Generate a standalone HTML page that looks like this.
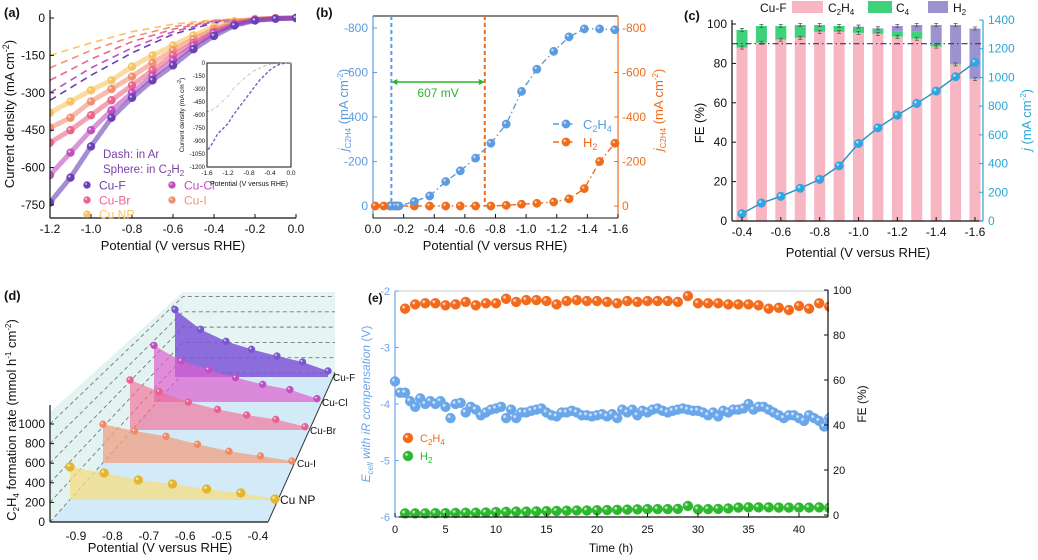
<!DOCTYPE html>
<html><head><meta charset="utf-8"><style>
html,body{margin:0;padding:0;background:#fff;}
svg{display:block;font-family:"Liberation Sans",sans-serif;}
</style></head><body>
<svg id="fig" width="1038" height="560" viewBox="0 0 1038 560" xmlns="http://www.w3.org/2000/svg">
<defs id="defs"></defs>
<g id="pa"></g>
<g id="pb"></g>
<g id="pc"></g>
<g id="pd"></g>
<g id="pe"></g>
</svg>
<script>
// ---------- data ----------
// panel a
const aPot = [-1.2,-1.1,-1.0,-0.9,-0.8,-0.7,-0.6,-0.5,-0.4,-0.3,-0.2,-0.1,0];
const aCuF  = [-740,-640,-515,-400,-320,-250,-190,-125,-72,-30,-10,-3,0];
const aCuCl = [-630,-540,-450,-370,-300,-232,-170,-110,-60,-25,-8,-2,0];
const aCuBr = [-500,-450,-390,-330,-270,-210,-150,-100,-55,-22,-7,-2,0];
const aCuI  = [-440,-400,-335,-285,-235,-180,-130,-85,-45,-18,-5,-1,0];
const aCuNP = [-380,-335,-290,-250,-195,-150,-110,-70,-35,-13,-4,-1,0];
const aDashPot = [-1.2,-1.0,-0.8,-0.6,-0.4,-0.2,0];
const aDashF  = [-330,-230,-140,-65,-20,-3,0];
const aDashCl = [-300,-200,-120,-55,-15,-2,0];
const aDashBr = [-250,-165,-95,-45,-12,-2,0];
const aDashI  = [-200,-130,-75,-35,-10,-1,0];
const aDashNP = [-150,-100,-55,-25,-7,-1,0];
const aTicksY = [0,-150,-300,-450,-600,-750];
const aTicksX = [-1.2,-1.0,-0.8,-0.6,-0.4,-0.2,0.0];
const insetPot = [-1.58,-1.5,-1.4,-1.3,-1.2,-1.1,-1.0,-0.9,-0.8,-0.7,-0.6,-0.5,-0.4,-0.3,-0.2,-0.1,0];
const insetC2H2 = [-1000,-930,-820,-760,-700,-600,-520,-440,-360,-280,-200,-140,-80,-40,-10,-2,0];
const insetAr = [-560,-540,-500,-440,-380,-300,-240,-180,-130,-90,-60,-35,-18,-8,-3,-1,0];
// panel b
const bPotC = [-0.12,-0.15,-0.17,-0.27,-0.37,-0.475,-0.57,-0.67,-0.77,-0.87,-0.97,-1.07,-1.18,-1.28,-1.38,-1.48,-1.58];
const bC2H4 = [0,0,0,-20,-45,-110,-158,-215,-282,-368,-515,-615,-695,-760,-796,-796,-792];
const bPotH = [-0.015,-0.07,-0.11,-0.14,-0.16,-0.27,-0.37,-0.475,-0.57,-0.67,-0.77,-0.87,-0.97,-1.07,-1.18,-1.28,-1.38,-1.48,-1.58];
const bH2 = [0,0,0,0,0,0,0,0,0,0,0,-3,-8,-12,-18,-32,-78,-200,-282];
const bOnsetC = -0.12, bOnsetH = -0.73;
const bTicksY = [-800,-600,-400,-200,0];
const bTicksX = [0.0,-0.2,-0.4,-0.6,-0.8,-1.0,-1.2,-1.4,-1.6];
// panel c
const cPot = [-0.4,-0.5,-0.6,-0.7,-0.8,-0.9,-1.0,-1.1,-1.2,-1.3,-1.4,-1.5,-1.6];
const cFEC2H4 = [88,90.5,92,93,96,96,95.5,95,93.5,92.5,88.5,79.5,72];
const cFEC4 = [9,8.5,7,6.5,3.5,3,3,2.3,2.5,3.5,1.5,0.2,0.2];
const cFEH2 = [0,0,0,0,0,0,0.2,0.5,3,3.5,9.5,19.8,25.5];
const cJ = [51,125,172,228,290,384,540,649,737,819,905,1005,1105];
const cTicksL = [0,20,40,60,80,100];
const cTicksR = [0,200,400,600,800,1000,1200,1400];
const cTicksX = [-0.4,-0.6,-0.8,-1.0,-1.2,-1.4,-1.6];
// panel d
const dNP = [340,277,205,164,113,72,10];
const dI  = [397,328,274,192,120,72,20];
const dBr = [513,393,287,212,154,109,34];
const dCl = [581,421,332,250,181,127,34];
const dF  = [691,489,366,284,215,154,62];
const dTicksY = [0,200,400,600,800,1000];
const dTicksX = [-0.9,-0.8,-0.7,-0.6,-0.5,-0.4];
// panel e
const eTimeFE = [1,2,3,4,5,6,7,8,9,10,11,12,13,14,15,16,17,18,19,20,21,22,23,24,25,26,27,28,29,30,31,32,33,34,35,36,37,38,39,40,41,42,43];
const eFEC2H4 = [91.7,93.6,94.1,94.1,93.2,93.6,94.7,93.2,94.1,94.1,96.1,94.7,95.5,95.5,95.1,93.6,95.1,95.5,95.1,95.1,94.7,94.1,95.1,94.7,95.1,95.1,95.1,94.7,97.3,94.1,94.1,94.1,93.6,93.6,93.6,93.2,91.7,92.1,91.1,92.9,91.7,94.1,92.6];
const eFEH2 = [0.7,0.7,0.7,0.8,0.8,0.9,1,1,1.1,1.3,1.4,1.5,1.5,1.6,1.7,1.8,1.9,2,2,2.1,2.2,2.3,2.4,2.5,2.6,2.6,2.6,2.7,4,2.5,2.6,2.7,2.9,3.3,3.4,3.4,3.4,3.3,3.3,3.3,3.3,3.4,3.2];
const eTimeV = [0,0.5,1,1.5,2,2.5,3,3.5,4,4.5,5,5.5,6,6.5,7,7.5,8,8.5,9,9.5,10,10.5,11,11.5,12,12.5,13,13.5,14,14.5,15,15.5,16,16.5,17,17.5,18,18.5,19,19.5,20,20.5,21,21.5,22,22.5,23,23.5,24,24.5,25,25.5,26,26.5,27,27.5,28,28.5,29,29.5,30,30.5,31,31.5,32,32.5,33,33.5,34,34.5,35,35.5,36,36.5,37,37.5,38,38.5,39,39.5,40,40.5,41,41.5,42,42.5,43];
const eEcell = [-3.6,-3.8,-3.8,-3.95,-4.05,-3.9,-4.0,-3.95,-4.0,-3.95,-4.05,-4.25,-4.0,-3.98,-4.15,-4.05,-4.1,-4.2,-4.15,-4.1,-4.08,-4.05,-4.25,-4.1,-4.25,-4.15,-4.15,-4.12,-4.1,-4.08,-4.15,-4.2,-4.22,-4.15,-4.15,-4.12,-4.15,-4.2,-4.2,-4.22,-4.2,-4.18,-4.22,-4.18,-4.25,-4.1,-4.15,-4.1,-4.2,-4.12,-4.15,-4.1,-4.08,-4.12,-4.15,-4.12,-4.1,-4.08,-4.1,-4.12,-4.12,-4.15,-4.2,-4.15,-4.22,-4.12,-4.15,-4.1,-4.1,-4.08,-4.0,-4.1,-4.05,-4.05,-4.1,-4.15,-4.2,-4.25,-4.2,-4.2,-4.25,-4.3,-4.2,-4.25,-4.3,-4.4,-4.25];
const eTicksL = [-2,-3,-4,-5,-6];
const eTicksR = [0,20,40,60,80,100];
const eTicksX = [0,5,10,15,20,25,30,35,40];

// ---------- helpers ----------
const NS = "http://www.w3.org/2000/svg";
function mk(tag, attrs, parent){const e=document.createElementNS(NS,tag);for(const k in attrs)e.setAttribute(k,attrs[k]);parent.appendChild(e);return e;}
function txt(parent,x,y,s,size,anchor,fill,extra){const t=mk('text',Object.assign({x:x,y:y,'font-size':size,'text-anchor':anchor||'start',fill:fill||'#111'},extra||{}),parent);t.innerHTML=s;return t;}
const defs=document.getElementById('defs');
const gradCache={};
function grad(color){
  if(gradCache[color])return gradCache[color];
  const id='g'+Object.keys(gradCache).length;
  const g=mk('radialGradient',{id:id,cx:'0.35',cy:'0.35',r:'0.7'},defs);
  mk('stop',{offset:'0',  'stop-color':'#ffffff'},g);
  mk('stop',{offset:'0.3','stop-color':color},g);
  mk('stop',{offset:'1',  'stop-color':color,'stop-opacity':'1'},g);
  gradCache[color]='url(#'+id+')';return gradCache[color];
}
function sphere(parent,x,y,r,color,name){
  const c=mk('circle',{cx:x,cy:y,r:r,fill:grad(color),stroke:color,'stroke-width':0.4},parent);
  
  
  return c;
}
function lin(d0,d1,p0,p1){return v=>p0+(v-d0)*(p1-p0)/(d1-d0);}

// ---------- panel a ----------
(function(){
const g=document.getElementById('pa');
const X=lin(-1.2,0,50,296), Y=lin(0,-750,18,205);
const cols=['#6b3fb5','#c04fbf','#ea6589','#f29074','#f6c465'];
const sph=[aCuF,aCuCl,aCuBr,aCuI,aCuNP];
const dsh=[aDashF,aDashCl,aDashBr,aDashI,aDashNP];
const clip=mk('clipPath',{id:'clipA'},defs);mk('rect',{x:50,y:10,width:246,height:208},clip);
const pg=mk('g',{'clip-path':'url(#clipA)'},g);
for(let s=4;s>=0;s--){
  const d=dsh[s].map((v,i)=>(i?'L':'M')+X(aDashPot[i])+','+Y(v)).join(' ');
  const p=mk('path',{d:d,fill:'none',stroke:cols[s],'stroke-width':1.6,'stroke-dasharray':'7,5'},pg);
  
  
}
for(let s=4;s>=0;s--){
  const d=sph[s].map((v,i)=>(i?'L':'M')+X(aPot[i])+','+Y(v)).join(' ');
  const p=mk('path',{d:d,fill:'none',stroke:cols[s],'stroke-width':5,'stroke-linecap':'round','stroke-opacity':0.6,'stroke-dasharray':'5,2'},pg);
  
  
  sph[s].forEach((v,i)=>sphere(pg,X(aPot[i]),Y(v),4,cols[s],'sphere-point'));
}
mk('line',{x1:50,y1:10,x2:50,y2:218,stroke:'#111','stroke-width':1.2},g);
mk('line',{x1:50,y1:218,x2:296,y2:218,stroke:'#111','stroke-width':1.2},g);
aTicksY.forEach(v=>{mk('line',{x1:50,x2:54,y1:Y(v),y2:Y(v),stroke:'#111'},g);txt(g,45,Y(v)+4,String(v),12,'end');});
aTicksX.forEach(v=>{mk('line',{x1:X(v),x2:X(v),y1:218,y2:214,stroke:'#111'},g);txt(g,X(v),233,v.toFixed(1),12,'middle');});
txt(g,173,250,'Potential (V versus RHE)',13,'middle');
txt(g,0,0,'Current density (mA cm<tspan dy="-5" font-size="9">-2</tspan><tspan dy="5">)</tspan>',13,'middle','#111',{transform:'translate(14,114) rotate(-90)'});
txt(g,4,17,'(a)',13,'start','#111',{'font-weight':'bold'});
// legend
txt(g,103,158,'Dash: in Ar',11.5,'start','#7b3fa8');
txt(g,103,173,'Sphere: in C<tspan dy="3" font-size="8">2</tspan><tspan dy="-3">H</tspan><tspan dy="3" font-size="8">2</tspan>',11.5,'start','#7b3fa8');
const leg=[['Cu-F',87,185],['Cu-Cl',172,185],['Cu-Br',87,200],['Cu-I',172,200],['Cu NP',87,214]];
leg.forEach((l,i)=>{sphere(g,l[1],l[2],3.5,cols[i],'legend-marker');const t=txt(g,l[1]+12,l[2]+4.5,l[0],12,'start',cols[i]);});
// inset
const ig=mk('g',{},g);
mk('rect',{x:207,y:63,width:84,height:104,fill:'#fff',stroke:'#111','stroke-width':1},ig);
const IX=lin(-1.6,0,207,291), IY=lin(0,-1200,63,167);
insetAr.forEach((v,i)=>mk('circle',{cx:IX(insetPot[i]),cy:IY(v),r:0.6,fill:'#999'},ig));
mk('path',{d:insetAr.map((v,i)=>(i?'L':'M')+IX(insetPot[i])+','+IY(v)).join(' '),fill:'none',stroke:'#aaa','stroke-width':0.6,'stroke-dasharray':'1,2'},ig);
mk('path',{d:insetC2H2.map((v,i)=>(i?'L':'M')+IX(insetPot[i])+','+IY(v)).join(' '),fill:'none',stroke:'#7a5cc0','stroke-width':1.4,'stroke-dasharray':'3,2'},ig);
[0,-150,-300,-450,-600,-750,-900,-1050,-1200].forEach(v=>txt(ig,205,IY(v)+2,String(v),6,'end'));
[-1.6,-1.2,-0.8,-0.4,0.0].forEach(v=>txt(ig,IX(v),175,v.toFixed(1),6.5,'middle'));
txt(ig,249,186,'Potential (V versus RHE)',7,'middle');
txt(ig,0,0,'Current density (mA cm<tspan dy="-3" font-size="5">-2</tspan><tspan dy="3">)</tspan>',6.5,'middle','#111',{transform:'translate(184,115) rotate(-90)'});
})();

// ---------- panel b ----------
(function(){
const g=document.getElementById('pb');
const X=lin(0,-1.6,373,618), Y=lin(0,-800,206,28);
const blue='#5b9bdf', org='#ef6c1a';
mk('line',{x1:373,y1:16,x2:618,y2:16,stroke:'#111'},g);
mk('line',{x1:373,y1:218,x2:618,y2:218,stroke:'#111'},g);
mk('line',{x1:373,y1:16,x2:373,y2:218,stroke:blue,'stroke-width':1.2},g);
mk('line',{x1:618,y1:16,x2:618,y2:218,stroke:org,'stroke-width':1.2},g);
bTicksY.forEach(v=>{mk('line',{x1:373,x2:377,y1:Y(v),y2:Y(v),stroke:blue},g);txt(g,368,Y(v)+4,String(v),12,'end',blue);
  mk('line',{x1:614,x2:618,y1:Y(v),y2:Y(v),stroke:org},g);txt(g,622,Y(v)+4,String(v),12,'start',org);});
bTicksX.forEach(v=>{mk('line',{x1:X(v),x2:X(v),y1:218,y2:214,stroke:'#111'},g);txt(g,X(v),233,v.toFixed(1),12,'middle');});
txt(g,495,250,'Potential (V versus RHE)',13,'middle');
txt(g,316,17,'(b)',13,'start','#111',{'font-weight':'bold'});
mk('line',{x1:X(bOnsetC),x2:X(bOnsetC),y1:16,y2:206,stroke:blue,'stroke-width':2,'stroke-dasharray':'4,3'},g);
mk('line',{x1:X(bOnsetH),x2:X(bOnsetH),y1:16,y2:206,stroke:org,'stroke-width':2,'stroke-dasharray':'4,3'},g);
mk('line',{x1:X(bOnsetC)+4,x2:X(bOnsetH)-4,y1:82,y2:82,stroke:'#2bb32b','stroke-width':1.5},g);
mk('path',{d:`M${X(bOnsetC)},82 l6,-3 v6 z M${X(bOnsetH)},82 l-6,-3 v6 z`,fill:'#2bb32b'},g);
txt(g,(X(bOnsetC)+X(bOnsetH))/2,97,'607 mV',12,'middle','#2bb32b');
mk('path',{d:bH2.map((v,i)=>(i?'L':'M')+X(bPotH[i])+','+Y(v)).join(' '),fill:'none',stroke:org,'stroke-width':1.4,'stroke-dasharray':'6,3,1.5,3'},g);
mk('path',{d:bC2H4.map((v,i)=>(i?'L':'M')+X(bPotC[i])+','+Y(v)).join(' '),fill:'none',stroke:blue,'stroke-width':1.4,'stroke-dasharray':'6,3,1.5,3'},g);
bH2.forEach((v,i)=>sphere(g,X(bPotH[i]),Y(v),4.2,org,'h2-point'));
bC2H4.forEach((v,i)=>sphere(g,X(bPotC[i]),Y(v),4.2,blue,'c2h4-point'));
// legend
mk('line',{x1:553,x2:575,y1:124,y2:124,stroke:blue,'stroke-width':1.4,'stroke-dasharray':'6,3,1.5,3'},g);sphere(g,566,124,4.2,blue,'legend-marker');
txt(g,583,129,'C<tspan dy="3" font-size="9">2</tspan><tspan dy="-3">H</tspan><tspan dy="3" font-size="9">4</tspan>',13,'start',blue);
mk('line',{x1:553,x2:575,y1:142,y2:142,stroke:org,'stroke-width':1.4,'stroke-dasharray':'6,3,1.5,3'},g);sphere(g,566,142,4.2,org,'legend-marker');
txt(g,583,147,'H<tspan dy="3" font-size="9">2</tspan>',13,'start',org);
txt(g,0,0,'<tspan font-style="italic">j</tspan><tspan dy="3" font-size="8">C2H4</tspan><tspan dy="-3"> (mA cm</tspan><tspan dy="-5" font-size="8">-2</tspan><tspan dy="5">)</tspan>',13,'middle',blue,{transform:'translate(348,110) rotate(-90)'});
txt(g,0,0,'<tspan font-style="italic">j</tspan><tspan dy="3" font-size="8">C2H4</tspan><tspan dy="-3"> (mA cm</tspan><tspan dy="-5" font-size="8">-2</tspan><tspan dy="5">)</tspan>',13,'middle',org,{transform:'translate(663,110) rotate(-90)'});
})();

// ---------- panel c ----------
(function(){
const g=document.getElementById('pc');
const X=lin(-0.4,-1.6,742,975), Y=lin(0,100,221,24), YR=lin(0,1400,221,20);
const cy='#2aa6d6';
const bw=11;
cPot.forEach((p,i)=>{
  const x=X(p)-bw/2; let base=0;
  [[cFEC2H4[i],'#f8b5c2','bar-c2h4'],[cFEC4[i],'#3fd27a','bar-c4'],[cFEH2[i],'#9c92cf','bar-h2']].forEach(s=>{
    if(s[0]<=0)return;
    const r=mk('rect',{x:x,y:Y(base+s[0]),width:bw,height:Y(base)-Y(base+s[0]),fill:s[1]},g);
    
    base+=s[0];
  });
  const top=base;
  mk('path',{d:`M${X(p)},${Y(top)-1.5}v3M${X(p)-2},${Y(top)-1.5}h4M${X(p)-2},${Y(top)+1.5}h4`,stroke:'#555','stroke-width':0.8},g);
  const t2=cFEC2H4[i];
  mk('path',{d:`M${X(p)},${Y(t2)-1.5}v3M${X(p)-2},${Y(t2)-1.5}h4M${X(p)-2},${Y(t2)+1.5}h4`,stroke:'#555','stroke-width':0.8},g);
});
mk('line',{x1:732,x2:983,y1:Y(90),y2:Y(90),stroke:'#4b2d6b','stroke-width':1.2,'stroke-dasharray':'6,3,1.5,3'},g);
mk('path',{d:cJ.map((v,i)=>(i?'L':'M')+X(cPot[i])+','+YR(v)).join(' '),fill:'none',stroke:'#1f8fc6','stroke-width':1.4},g);
cJ.forEach((v,i)=>sphere(g,X(cPot[i]),YR(v),4.3,'#2ea6e0','j-point'));
mk('line',{x1:732,y1:20,x2:732,y2:221,stroke:'#111','stroke-width':1.2},g);
mk('line',{x1:732,y1:221,x2:983,y2:221,stroke:'#111','stroke-width':1.2},g);
mk('line',{x1:983,y1:20,x2:983,y2:221,stroke:cy,'stroke-width':1.2},g);
cTicksL.forEach(v=>{mk('line',{x1:732,x2:736,y1:Y(v),y2:Y(v),stroke:'#111'},g);txt(g,727,Y(v)+4,String(v),12,'end');});
cTicksR.forEach(v=>{mk('line',{x1:979,x2:983,y1:YR(v),y2:YR(v),stroke:cy},g);txt(g,988,YR(v)+4,String(v),12,'start',cy);});
cTicksX.forEach(v=>{mk('line',{x1:X(v),x2:X(v),y1:221,y2:217,stroke:'#111'},g);txt(g,X(v),236,v.toFixed(1),12,'middle');});
txt(g,858,257,'Potential (V versus RHE)',13,'middle');
txt(g,0,0,'FE (%)',13,'middle','#111',{transform:'translate(704,123) rotate(-90)'});
txt(g,0,0,'<tspan font-style="italic">j</tspan> (mA cm<tspan dy="-5" font-size="8">-2</tspan><tspan dy="5">)</tspan>',13,'middle',cy,{transform:'translate(1031,120) rotate(-90)'});
txt(g,684,20,'(c)',13,'start','#111',{'font-weight':'bold'});
txt(g,760,12,'Cu-F',12,'start');
mk('rect',{x:792,y:1,width:31,height:12,fill:'#f8b5c2'},g);
txt(g,828,12,'C<tspan dy="3" font-size="8">2</tspan><tspan dy="-3">H</tspan><tspan dy="3" font-size="8">4</tspan>',12,'start');
mk('rect',{x:868,y:1,width:24,height:12,fill:'#3fd27a'},g);
txt(g,896,12,'C<tspan dy="3" font-size="8">4</tspan>',12,'start');
mk('rect',{x:928,y:1,width:20,height:12,fill:'#9c92cf'},g);
txt(g,953,12,'H<tspan dy="3" font-size="8">2</tspan>',12,'start');
})();

// ---------- panel d ----------
(function(){
const g=document.getElementById('pd');
mk('polygon',{points:'50,522 50,412 183,292 183,373',fill:'#e3f3f1'},g);
mk('polygon',{points:'183,292 335,292 335,373 183,373',fill:'#e6f5f3'},g);
mk('polygon',{points:'50,522 268,522 335,373 183,373',fill:'#d3ebf8'},g);
const DY=lin(0,1000,522,424);
dTicksY.forEach(v=>{const y=DY(v);const by=373-(522-y)*0.78;
  mk('path',{d:`M50,${y} L183,${by} L335,${by}`,fill:'none',stroke:'#777','stroke-width':0.9,'stroke-dasharray':'4,3'},g);
  mk('line',{x1:50,x2:54,y1:y,y2:y,stroke:'#111'},g);
  txt(g,45,y+4,String(v),12,'end');});
mk('line',{x1:50,y1:405,x2:50,y2:522,stroke:'#111','stroke-width':1.2},g);
mk('line',{x1:50,y1:522,x2:268,y2:522,stroke:'#111','stroke-width':1.2},g);
mk('line',{x1:268,y1:522,x2:335,y2:373,stroke:'#333','stroke-width':1},g);
const DX=lin(-0.9,-0.4,76,258);
dTicksX.forEach(v=>{txt(g,DX(v),540,v.toFixed(1),12,'middle');});
const layers=[[dF,377,175,328,'#7a55d0','rgba(125,85,215,0.85)','Cu-F'],[dCl,402,154,317,'#c24fc0','rgba(222,95,205,0.7)','Cu-Cl'],[dBr,430,130,305,'#e8608e','rgba(243,110,150,0.65)','Cu-Br'],[dI,463,103,292,'#ef8a62','rgba(240,160,130,0.75)','Cu-I'],[dNP,500,70,275,'#e4b62f','rgba(246,222,130,0.75)','Cu NP']];
layers.forEach(L=>{
  const vals=L[0], base=L[1], x0=L[2], x1=L[3];
  const xs=vals.map((v,i)=>x0+i*(x1-x0)/(vals.length-1));
  const ys=vals.map(v=>base-v*0.0975);
  let pts=`${x0},${base} `+xs.map((x,i)=>x+','+ys[i]).join(' ')+` ${x1},${base}`;
  const pl=mk('polygon',{points:pts,fill:L[5]},g);
  
  xs.forEach((x,i)=>sphere(g,x,ys[i],L[6]==='Cu NP'?4.5:3.5,L[4],'rate-point'));
  txt(g,x1+5,base+4,L[6],L[6]==='Cu NP'?12:10,'start');
});
txt(g,160,552,'Potential (V versus RHE)',13,'middle');
txt(g,0,0,'C<tspan dy="3" font-size="8">2</tspan><tspan dy="-3">H</tspan><tspan dy="3" font-size="8">4</tspan><tspan dy="-3"> formation rate (mmol h</tspan><tspan dy="-5" font-size="8">-1</tspan><tspan dy="5"> cm</tspan><tspan dy="-5" font-size="8">-2</tspan><tspan dy="5">)</tspan>',13,'middle','#111',{transform:'translate(16,420) rotate(-90)'});
txt(g,4,300,'(d)',13,'start','#111',{'font-weight':'bold'});
})();

// ---------- panel e ----------
(function(){
const g=document.getElementById('pe');
const X=lin(0,40,395,799), Y=lin(-2,-6,291,517), YR=lin(0,100,515,290);
const blue='#6aa6ea';
mk('line',{x1:395,y1:291,x2:828,y2:291,stroke:'#ccc'},g);
eTimeV.forEach((t,i)=>sphere(g,X(t),Y(eEcell[i]),5,blue,'ecell-point'));
eTimeFE.forEach((t,i)=>sphere(g,X(t),YR(eFEC2H4[i]),5,'#f26a1b','fe-c2h4-point'));
eTimeFE.forEach((t,i)=>sphere(g,X(t),YR(eFEH2[i]),5,'#2cb82c','fe-h2-point'));
mk('rect',{x:829,y:285,width:20,height:240,fill:'#fff'},g);
mk('line',{x1:395,y1:291,x2:395,y2:517,stroke:blue,'stroke-width':1.2},g);
mk('line',{x1:828,y1:290,x2:828,y2:517,stroke:'#111','stroke-width':1.2},g);
mk('line',{x1:395,y1:517,x2:828,y2:517,stroke:'#111','stroke-width':1.2},g);
eTicksL.forEach(v=>{mk('line',{x1:395,x2:399,y1:Y(v),y2:Y(v),stroke:blue},g);txt(g,390,Y(v)+4,String(v),11,'end',blue);});
eTicksR.forEach(v=>{mk('line',{x1:824,x2:828,y1:YR(v),y2:YR(v),stroke:'#111'},g);txt(g,833,YR(v)+4,String(v),11,'start');});
eTicksX.forEach(v=>{mk('line',{x1:X(v),x2:X(v),y1:517,y2:513,stroke:'#111'},g);txt(g,X(v),533,String(v),11,'middle');});
txt(g,611,552,'Time (h)',12,'middle');
txt(g,0,0,'<tspan font-style="italic">E</tspan><tspan dy="3" font-size="8" font-style="italic">cell</tspan><tspan dy="-3" font-style="italic"> with iR compensation</tspan> (V)',12,'middle',blue,{transform:'translate(370,404) rotate(-90)'});
txt(g,0,0,'FE (%)',12,'middle','#111',{transform:'translate(866,404) rotate(-90)'});
txt(g,368,302,'(e)',12,'start','#111',{'font-weight':'bold'});
sphere(g,408,438,5,'#f26a1b','legend-marker');
txt(g,420,442,'C<tspan dy="3" font-size="8">2</tspan><tspan dy="-3">H</tspan><tspan dy="3" font-size="8">4</tspan>',11,'start','#f26a1b');
sphere(g,408,456,5,'#2cb82c','legend-marker');
txt(g,420,460,'H<tspan dy="3" font-size="8">2</tspan>',11,'start','#2cb82c');
})();
</script>
</body></html>
